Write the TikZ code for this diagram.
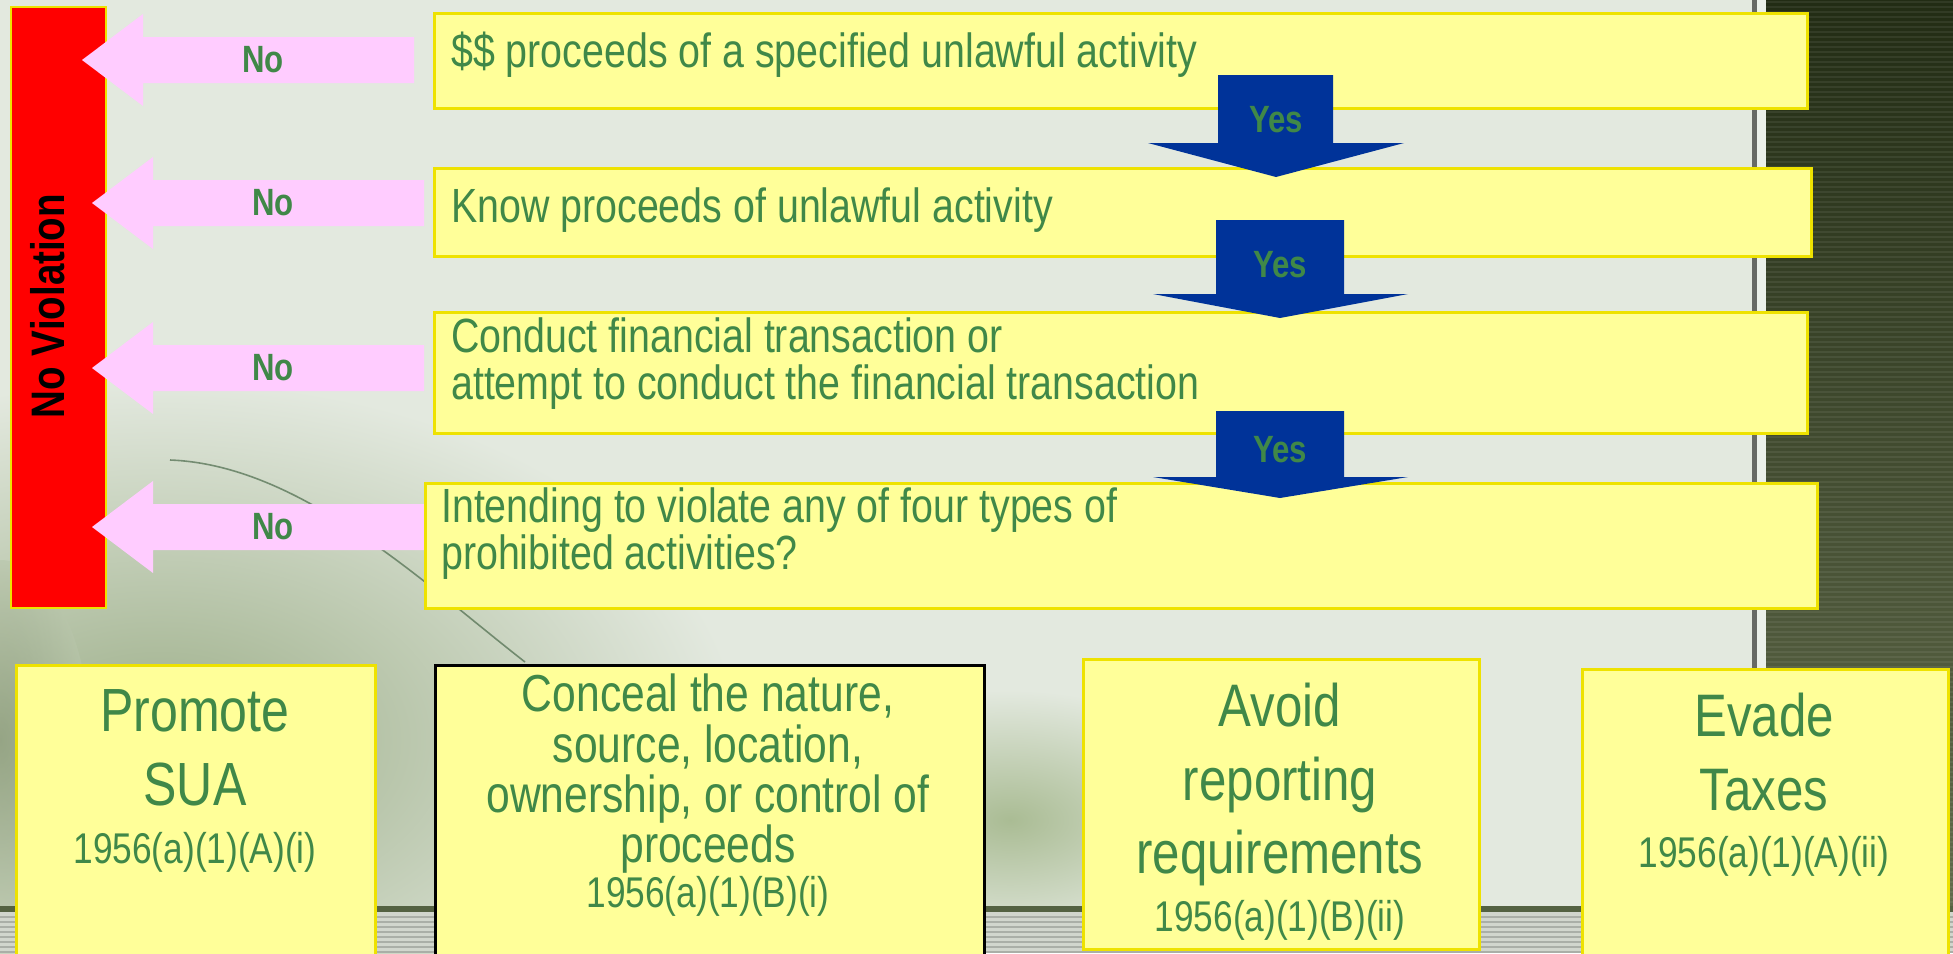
\documentclass[tikz,border=0pt]{standalone}
\usepackage{fontspec}
\newfontfamily\narrowsans{Liberation Sans}[FakeStretch=0.82]
\definecolor{bg}{RGB}{227,233,223}
\definecolor{bookgreen}{RGB}{156,174,136}
\definecolor{stemgreen}{RGB}{170,188,148}
\definecolor{stripdark}{RGB}{34,44,20}
\definecolor{stripolive}{RGB}{98,108,76}
\definecolor{floorline}{RGB}{84,98,66}
\definecolor{boxfill}{RGB}{255,255,153}
\definecolor{boxedge}{RGB}{238,226,0}
\definecolor{pinkfill}{RGB}{255,204,255}
\definecolor{bluefill}{RGB}{0,51,153}
\definecolor{txtgreen}{RGB}{64,136,72}
\begin{document}
\begin{tikzpicture}[x=1pt,y=-1pt,
  box/.style={draw=boxedge, line width=2.5pt, fill=boxfill, inner sep=0pt, anchor=north west},
  toptext/.style={font=\narrowsans\fontsize{48}{47}\selectfont, text=txtgreen, inner sep=0pt, align=left},
  bigtext/.style={text=txtgreen, inner sep=0pt, align=center, anchor=north},
  codetext/.style={font=\narrowsans\fontsize{43}{43}\selectfont, text=txtgreen, inner sep=0pt, anchor=base},
  answer/.style={font=\narrowsans\bfseries\fontsize{38}{38}\selectfont, text=txtgreen, inner sep=0pt},
  noarrow/.style={fill=pinkfill},
  yesarrow/.style={fill=bluefill}]
\useasboundingbox (0,0) rectangle (1953,953);

% backdrop: pale page, soft book shapes, dark striped strip on the right, striped floor
\fill[bg] (0,0) rectangle (1953,953);
\shade[inner color=bookgreen, outer color=bg] (160,740) ellipse [x radius=580, y radius=360];
\shade[inner color=bookgreen!85!black, outer color=bookgreen!60!bg, opacity=0.6] (0,740) ellipse [x radius=90, y radius=180];
\shade[inner color=stemgreen, outer color=bg] (1010,820) ellipse [x radius=230, y radius=130];
\draw[black!70!green!40!gray, line width=1.6pt, opacity=0.7]
  (170,460) .. controls (300,465) and (420,580) .. (525,662);
\shade[top color=stripdark, bottom color=stripolive] (1766,0) rectangle (1953,916);
\foreach \yy in {2,7,...,912}
  \draw[white, opacity=0.07, line width=1.6pt] (1766,\yy) -- (1953,\yy);
\fill[black!55!bg] (1752,0) rectangle (1757,916);
\fill[bg!70!white] (1757,0) rectangle (1766,916);
\fill[floorline] (0,906) rectangle (1953,912);
\fill[black!8!bg] (0,912) rectangle (1953,953);
\foreach \yy in {917,922,...,952}
  \draw[black!25!bg, line width=1.4pt] (0,\yy) -- (1953,\yy);

% "No Violation" bar
\node[box, draw=boxedge, line width=1.5pt, fill=red, minimum width=95, minimum height=601] (bar) at (10,6) {};
\node[font=\narrowsans\bfseries\fontsize{47}{47}\selectfont, text=black, rotate=90, inner sep=0pt] (bartext) at (48,306) {No Violation};

% pink "No" arrows pointing to the bar
\foreach \tip/\cy/\back/\tail in {82/60/143/414, 92/203/153/424, 92/368/153/424, 92/527/153/440}
  \fill[noarrow] (\tip,\cy) -- (\back,\cy-46) -- (\back,\cy-23) -- (\tail,\cy-23)
    -- (\tail,\cy+23) -- (\back,\cy+23) -- (\back,\cy+46) -- cycle;

% question boxes
\node[box, minimum width=1373, minimum height=95] (q1) at (433,12) {};
\node[box, minimum width=1377, minimum height=88] (q2) at (433,167) {};
\node[box, minimum width=1373, minimum height=121] (q3) at (433,311) {};
\node[box, minimum width=1392, minimum height=125] (q4) at (424,482) {};
\node[toptext, anchor=base west] (q1text) at (451,67) {\$\$ proceeds of a specified unlawful activity};
\node[toptext, anchor=base west] (q2text) at (451,222) {Know proceeds of unlawful activity};
\node[toptext, anchor=north west] (q3text) at (451,318) {Conduct financial transaction or\\attempt to conduct the financial transaction};
\node[toptext, anchor=north west] (q4text) at (441,488) {Intending to violate any of four types of\\prohibited activities?};

% blue "Yes" arrows between the questions
\foreach \sl/\sr/\st/\hb/\hl/\hr/\tx/\ty in {1218/1333/75/143/1148/1404/1276/177,
    1216/1344/220/294/1153/1408/1280/318, 1216/1344/411/477/1153/1408/1280/498}
  \fill[yesarrow] (\sl,\st) -- (\sr,\st) -- (\sr,\hb) -- (\hr,\hb) -- (\tx,\ty)
    -- (\hl,\hb) -- (\sl,\hb) -- cycle;

\node[answer] (yes1) at (1276,120) {Yes};
\node[answer] (yes2) at (1280,265) {Yes};
\node[answer] (yes3) at (1280,450) {Yes};
\node[answer] (no1) at (263,60) {No};
\node[answer] (no2) at (273,203) {No};
\node[answer] (no3) at (273,368) {No};
\node[answer] (no4) at (273,527) {No};

% the four prohibited activities
\node[box, minimum width=359, minimum height=300] (promote) at (15,664) {};
\node[box, draw=black, minimum width=549, minimum height=300] (conceal) at (434,664) {};
\node[box, minimum width=396, minimum height=290] (avoid) at (1082,658) {};
\node[box, minimum width=366, minimum height=300] (evade) at (1581,668) {};

\node[bigtext, font=\narrowsans\fontsize{61}{74}\selectfont] (promotetext) at (195,689) {Promote\\SUA};
\node[codetext] (promotecode) at (195,863) {1956(a)(1)(A)(i)};
\node[bigtext, font=\narrowsans\fontsize{52}{50.3}\selectfont] (concealtext) at (708,674) {Conceal the nature,\\source, location,\\ownership, or control of\\proceeds};
\node[codetext] (concealcode) at (708,907) {1956(a)(1)(B)(i)};
\node[bigtext, font=\narrowsans\fontsize{60}{73.5}\selectfont] (avoidtext) at (1280,683) {Avoid\\reporting\\requirements};
\node[codetext] (avoidcode) at (1280,931) {1956(a)(1)(B)(ii)};
\node[bigtext, font=\narrowsans\fontsize{60}{74}\selectfont] (evadetext) at (1764,693) {Evade\\Taxes};
\node[codetext] (evadecode) at (1764,867) {1956(a)(1)(A)(ii)};
\end{tikzpicture}
\end{document}
